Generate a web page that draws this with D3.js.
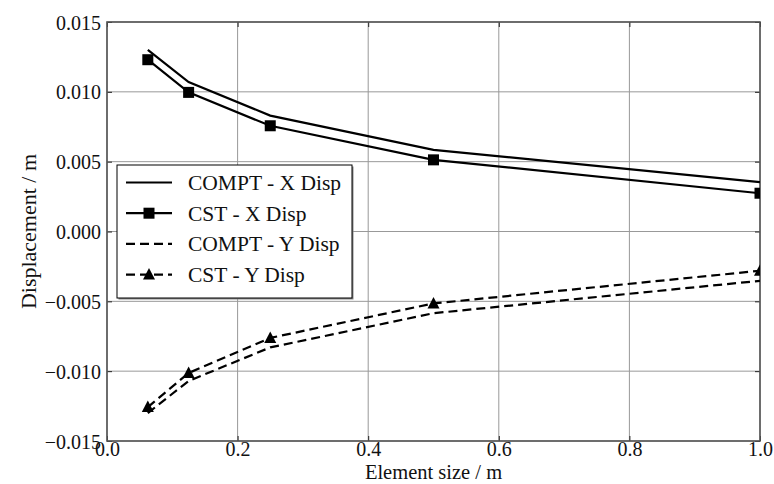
<!DOCTYPE html>
<html>
<head>
<meta charset="utf-8">
<script src="https://cdn.jsdelivr.net/npm/d3@7"></script>
<style>
  body { margin: 0; background: #fff; }
  svg { font-family: "Liberation Serif", "Times New Roman", serif; }
</style>
</head>
<body>
<div id="chart"></div>
<script>
// element sizes (m)
var sizes = [0.0625, 0.125, 0.25, 0.5, 1.0];
// displacements (m)
var comptX = [0.0130, 0.0107, 0.0083, 0.00585, 0.00353];
var cstX   = [0.0123, 0.00996, 0.00757, 0.00513, 0.00274];
var comptY = [-0.0130, -0.0107, -0.0083, -0.00585, -0.00353];
var cstY   = [-0.01257, -0.01013, -0.00762, -0.00515, -0.00281];

var xTicks = [0, 0.2, 0.4, 0.6, 0.8, 1.0];
var yTicks = [-0.015, -0.010, -0.005, 0.000, 0.005, 0.010, 0.015];

var series = [
  {name: "COMPT - X Disp", values: comptX, dash: null, marker: null},
  {name: "CST - X Disp", values: cstX, dash: null, marker: "square"},
  {name: "COMPT - Y Disp", values: comptY, dash: "9,5", marker: null},
  {name: "CST - Y Disp", values: cstY, dash: "9,5", marker: "triangle"}
];

var margin = {top: 22, right: 14, bottom: 43, left: 107},
    width = 774 - margin.left - margin.right,
    height = 484 - margin.top - margin.bottom;

var x = d3.scaleLinear().domain([0, 1]).range([0, width]);
var y = d3.scaleLinear().domain([-0.015, 0.015]).range([height, 0]);

var svg = d3.select("#chart").append("svg")
    .attr("width", 774)
    .attr("height", 484)
  .append("g")
    .attr("transform", "translate(" + margin.left + "," + margin.top + ")");

svg.append("defs").append("clipPath").attr("id", "clip")
  .append("rect").attr("width", width).attr("height", height);

// grid
svg.append("g").selectAll("line").data(xTicks).enter().append("line")
    .attr("x1", function(d) { return x(d); }).attr("x2", function(d) { return x(d); })
    .attr("y1", 0).attr("y2", height)
    .attr("stroke", "#999").attr("stroke-width", 1);
svg.append("g").selectAll("line").data(yTicks).enter().append("line")
    .attr("y1", function(d) { return y(d); }).attr("y2", function(d) { return y(d); })
    .attr("x1", 0).attr("x2", width)
    .attr("stroke", "#999").attr("stroke-width", 1);

// axes
var fmtY = function(d) { return d3.format(".3f")(d).replace("-", "\u2212"); };
var yAxis = svg.append("g")
    .call(d3.axisLeft(y).tickValues(yTicks).tickSize(-5).tickPadding(6).tickFormat(fmtY));
var yAxisR = svg.append("g").attr("transform", "translate(" + width + ",0)")
    .call(d3.axisRight(y).tickValues(yTicks).tickSize(-5).tickFormat(""));
var xAxis = svg.append("g").attr("transform", "translate(0," + height + ")")
    .call(d3.axisBottom(x).tickValues(xTicks).tickSize(-5).tickPadding(1).tickFormat(d3.format(".1f")));
var xAxisT = svg.append("g")
    .call(d3.axisTop(x).tickValues(xTicks).tickSize(-5).tickFormat(""));

[yAxis, yAxisR, xAxis, xAxisT].forEach(function(a) {
  a.select(".domain").remove();
  a.selectAll(".tick line").attr("stroke", "#222");
  a.selectAll("text").attr("fill", "#111").style("font-size", "20px")
    .style("font-family", "'Liberation Serif', serif");
});
yAxis.selectAll("text").attr("dy", "0.35em");
xAxis.selectAll("text").attr("dy", "0.71em");

// frame
svg.append("rect").attr("width", width).attr("height", height)
    .attr("fill", "none").attr("stroke", "#555").attr("stroke-width", 1.6);

// lines
var line = d3.line()
    .x(function(d) { return x(d[0]); })
    .y(function(d) { return y(d[1]); });

var plot = svg.append("g").attr("clip-path", "url(#clip)");

function drawMarker(g, kind, cx, cy) {
  if (kind === "square") {
    g.append("rect").attr("x", cx - 5.5).attr("y", cy - 5.5)
      .attr("width", 11).attr("height", 11).attr("fill", "#000");
  } else if (kind === "triangle") {
    g.append("path")
      .attr("d", "M" + cx + "," + (cy - 6.5) + "L" + (cx + 6) + "," + (cy + 5) + "L" + (cx - 6) + "," + (cy + 5) + "Z")
      .attr("fill", "#000");
  }
}

series.forEach(function(s) {
  var pts = sizes.map(function(v, i) { return [v, s.values[i]]; });
  plot.append("path").datum(pts)
    .attr("d", line)
    .attr("fill", "none")
    .attr("stroke", "#000")
    .attr("stroke-width", 2.2)
    .attr("stroke-dasharray", s.dash);
  if (s.marker) {
    pts.forEach(function(p) { drawMarker(plot, s.marker, x(p[0]), y(p[1])); });
  }
});

// legend
var lg = svg.append("g").attr("transform", "translate(10,143)");
lg.append("rect").attr("x", 1.5).attr("y", 1.5).attr("width", 235).attr("height", 133)
    .attr("fill", "#888");
lg.append("rect").attr("width", 235).attr("height", 133)
    .attr("fill", "#fff").attr("stroke", "#000").attr("stroke-width", 1);

series.forEach(function(s, i) {
  var ry = 17.5 + i * 30.7;
  lg.append("line").attr("x1", 9).attr("x2", 55).attr("y1", ry).attr("y2", ry)
    .attr("stroke", "#000").attr("stroke-width", 2.2)
    .attr("stroke-dasharray", s.dash);
  if (s.marker) drawMarker(lg, s.marker, 32, ry);
  lg.append("text").attr("x", 71).attr("y", ry).attr("dy", "0.35em")
    .style("font-size", "21.5px").attr("fill", "#111").text(s.name);
});

// axis labels
svg.append("text")
    .attr("x", width / 2).attr("y", height + 38.3)
    .style("text-anchor", "middle").style("font-size", "20.5px").attr("fill", "#111")
    .text("Element size / m");
svg.append("text")
    .attr("transform", "rotate(-90)")
    .attr("x", -height / 2).attr("y", -71)
    .style("text-anchor", "middle").style("font-size", "22px").attr("fill", "#111")
    .text("Displacement / m");
</script>
</body>
</html>
